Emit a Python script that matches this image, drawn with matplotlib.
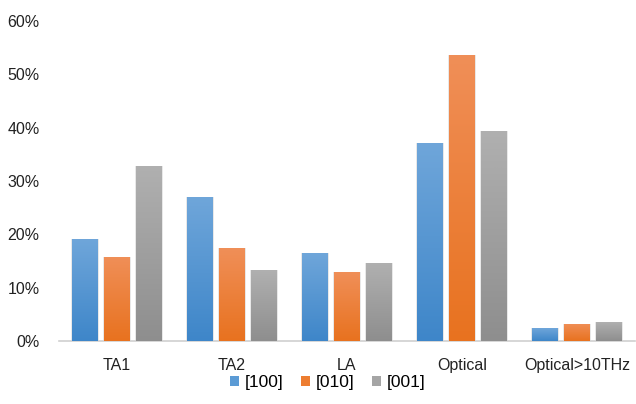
import numpy as np
import matplotlib.pyplot as plt
from matplotlib.colors import LinearSegmentedColormap
from matplotlib.patches import Patch

plt.rcParams['font.family'] = ['Liberation Sans', 'DejaVu Sans']

categories = ['TA1', 'TA2', 'LA', 'Optical', 'Optical>10THz']
series = ['[100]', '[010]', '[001]']
v100 = [19.1, 27.0, 16.5, 37.1, 2.4]
v010 = [15.8, 17.4, 12.9, 53.7, 3.2]
v001 = [32.8, 13.3, 14.6, 39.4, 3.5]
values = [v100, v010, v001]

# top / bottom colours for the gradient fill
tops = ['#6fa6da', '#f08f58', '#b0b0b0']
bots = ['#3e86c9', '#e8721f', '#8e8e8e']
mids = ['#5b9bd5', '#ed7d31', '#a5a5a5']

fig = plt.figure(figsize=(6.36, 4.04), dpi=100)
ax = fig.add_axes([0.093, 0.156, 0.905, 0.792])

x = np.arange(len(categories))
pitch = 0.277
width = 0.225
grad = np.linspace(1, 0, 256).reshape(-1, 1)
for i, vals in enumerate(values):
    pos = x + (i - 1) * pitch
    bars = ax.bar(pos, vals, width, color='none', edgecolor='none', zorder=2)
    cmap = LinearSegmentedColormap.from_list('g%d' % i, [bots[i], tops[i]])
    for b in bars:
        bx, by = b.get_x(), b.get_y()
        bw, bh = b.get_width(), b.get_height()
        # faint shadow
        ax.bar(bx + bw / 2, bh, bw * 1.08, color='#d9d9d9', alpha=0.6,
               edgecolor='none', zorder=1)
        im = ax.imshow(grad, cmap=cmap, aspect='auto',
                       extent=[bx, bx + bw, by, by + bh], zorder=3)
        im.set_clip_path(b)

ax.set_xlim(-0.5, len(categories) - 0.5)
ax.set_ylim(0, 60)
ax.set_yticks(np.arange(0, 61, 10))
ax.set_yticklabels(['%d%%' % t for t in range(0, 61, 10)])
ax.set_xticks(x)
ax.set_xticklabels(categories)
ax.tick_params(axis='both', length=0, labelsize=11.5, colors='#222222')
ax.tick_params(axis='y', pad=14)
ax.tick_params(axis='x', pad=12)
for s in ['top', 'right', 'left']:
    ax.spines[s].set_visible(False)
ax.spines['bottom'].set_color('#d0d0d0')
ax.spines['bottom'].set_linewidth(1.2)

handles = [Patch(facecolor=mids[i], label=series[i]) for i in range(3)]
fig.legend(handles=handles, loc='center', bbox_to_anchor=(0.515, 0.053), ncol=3,
           frameon=False, fontsize=12.5, handlelength=0.55, handleheight=0.55,
           handletextpad=0.3, columnspacing=1.0)

fig.savefig('out.png', dpi=100)
